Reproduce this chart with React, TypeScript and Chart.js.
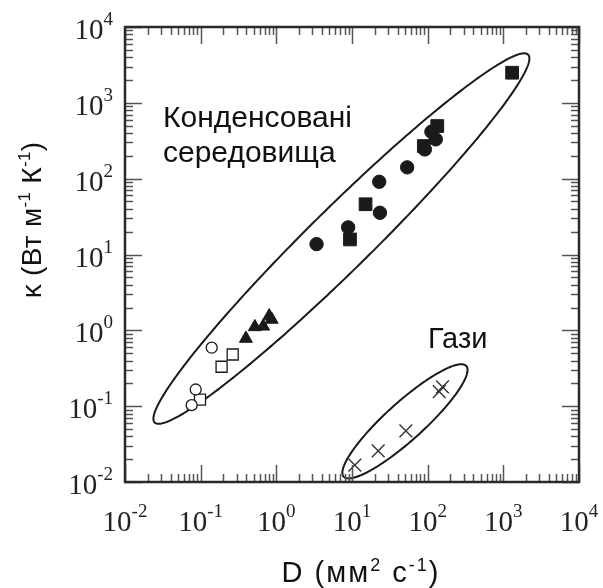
import React, { useEffect, useRef } from "react";
import { Chart, registerables } from "chart.js";
Chart.register(...registerables);

// ---- data (D in mm^2/s, kappa in W m^-1 K^-1) ----
const openCirclesD = [0.14, 0.086, 0.076];
const openCirclesK = [0.59, 0.166, 0.103];
const openSquaresD = [0.265, 0.189, 0.098];
const openSquaresK = [0.48, 0.331, 0.122];
const trianglesD = [0.396, 0.52, 0.67, 0.805, 0.867];
const trianglesK = [0.78, 1.11, 1.13, 1.54, 1.39];
const filledCirclesD = [3.4, 8.9, 23.4, 22.9, 53.6, 91.8, 128, 112];
const filledCirclesK = [13.7, 22.8, 35.5, 91, 141, 243, 330, 416];
const filledSquaresD = [9.4, 15.1, 89, 134, 1306];
const filledSquaresK = [15.8, 46, 269, 494, 2495];
const gasD = [10.9, 22.2, 51.5, 142, 157];
const gasK = [0.0167, 0.0257, 0.0472, 0.155, 0.18];

const decadeExponents = [-2, -1, 0, 1, 2, 3, 4];
const minorMultipliers = [2, 3, 4, 5, 6, 7, 8, 9];

// ellipses in log10 space: [centre log D, centre log kappa, semi-major, semi-minor, angle deg]
const condensedEllipse = [0.86, 1.21, 3.46, 0.41, 44.5];
const gasEllipse = [1.7, -1.2, 1.09, 0.25, 42];

const condensedLabel = ["Конденсовані", "середовища"];
const gasLabel = "Гази";

const SANS = "'Liberation Sans', Arial, sans-serif";
const SERIF = "'Liberation Serif', 'Times New Roman', serif";

const pts = (xs: number[], ys: number[]) => xs.map((x, i) => ({ x, y: ys[i] }));

type Seg = [string, boolean];

function drawSegs(ctx: CanvasRenderingContext2D, segs: Seg[], x: number, y: number, size: number, supSize: number, supRise: number, align: "left" | "center", spacing = 0) {
  (ctx as any).letterSpacing = `${spacing}px`;
  const widths = segs.map(([t, sup]) => {
    ctx.font = `${sup ? supSize : size}px ${SANS}`;
    return ctx.measureText(t).width;
  });
  const total = widths.reduce((a, b) => a + b, 0);
  let cx = align === "center" ? x - total / 2 : x;
  ctx.textAlign = "left";
  ctx.textBaseline = "alphabetic";
  segs.forEach(([t, sup], i) => {
    ctx.font = `${sup ? supSize : size}px ${SANS}`;
    ctx.fillText(t, cx, sup ? y - supRise : y);
    cx += widths[i];
  });
  (ctx as any).letterSpacing = "0px";
}

const framePlugin = {
  id: "framePlugin",
  beforeDatasetsDraw(chart: any) {
    const ctx: CanvasRenderingContext2D = chart.ctx;
    const xs = chart.scales.x;
    const ys = chart.scales.y;
    const drawEllipse = (e: number[]) => {
      const [cx, cy, a, b, ang] = e;
      const th = (ang * Math.PI) / 180;
      ctx.save();
      ctx.beginPath();
      for (let i = 0; i <= 360; i++) {
        const t = (i * Math.PI) / 180;
        const u = a * Math.cos(t);
        const v = b * Math.sin(t);
        const lx = cx + u * Math.cos(th) - v * Math.sin(th);
        const ly = cy + u * Math.sin(th) + v * Math.cos(th);
        const px = xs.getPixelForValue(Math.pow(10, lx));
        const py = ys.getPixelForValue(Math.pow(10, ly));
        if (i === 0) ctx.moveTo(px, py);
        else ctx.lineTo(px, py);
      }
      ctx.closePath();
      ctx.strokeStyle = "#1a1a1a";
      ctx.lineWidth = 2;
      ctx.stroke();
      ctx.restore();
    };
    drawEllipse(condensedEllipse);
    drawEllipse(gasEllipse);
  },
  afterDraw(chart: any) {
    const ctx: CanvasRenderingContext2D = chart.ctx;
    const { left, right, top, bottom } = chart.chartArea;
    const xs = chart.scales.x;
    const ys = chart.scales.y;
    ctx.save();
    // ticks
    ctx.strokeStyle = "#555";
    ctx.lineWidth = 1.5;
    const major = 17;
    const minor = 8;
    decadeExponents.forEach((e, idx) => {
      const vals: [number, number][] = [[Math.pow(10, e), major]];
      if (idx < decadeExponents.length - 1) minorMultipliers.forEach((m) => vals.push([m * Math.pow(10, e), minor]));
      vals.forEach(([v, len]) => {
        const px = Math.round(xs.getPixelForValue(v)) + 0.5;
        const py = Math.round(ys.getPixelForValue(v)) + 0.5;
        ctx.beginPath();
        ctx.moveTo(px, bottom); ctx.lineTo(px, bottom - len);
        ctx.moveTo(px, top); ctx.lineTo(px, top + len);
        ctx.moveTo(left, py); ctx.lineTo(left + len, py);
        ctx.moveTo(right, py); ctx.lineTo(right - len, py);
        ctx.stroke();
      });
    });
    // frame
    ctx.strokeStyle = "#2a2a2a";
    ctx.lineWidth = 2.5;
    ctx.strokeRect(left, top, right - left, bottom - top);

    // tick labels
    ctx.fillStyle = "#222";
    ctx.textBaseline = "alphabetic";
    decadeExponents.forEach((e) => {
      const v = Math.pow(10, e);
      const exp = String(e);
      ctx.font = `29px ${SERIF}`;
      const w10 = ctx.measureText("10").width;
      ctx.font = `19px ${SERIF}`;
      const we = ctx.measureText(exp).width;
      // x labels
      const px = xs.getPixelForValue(v);
      const x0 = px - (w10 + we) / 2;
      ctx.textAlign = "left";
      ctx.font = `29px ${SERIF}`;
      ctx.fillText("10", x0, 531);
      ctx.font = `19px ${SERIF}`;
      ctx.fillText(exp, x0 + w10, 517);
      // y labels
      const py = ys.getPixelForValue(v);
      const xr = left - 12;
      ctx.font = `19px ${SERIF}`;
      ctx.fillText(exp, xr - we, py - 2);
      ctx.font = `29px ${SERIF}`;
      ctx.fillText("10", xr - we - w10, py + 12);
    });

    // annotations
    ctx.fillStyle = "#111";
    ctx.textAlign = "left";
    ctx.font = `30px ${SANS}`;
    ctx.fillText(condensedLabel[0], 163, 127);
    ctx.fillText(condensedLabel[1], 163, 162);
    ctx.font = `29px ${SANS}`;
    ctx.fillText(gasLabel, 428, 348);

    // axis titles
    drawSegs(ctx, [["D (мм", false], ["2", true], [" с", false], ["-1", true], [")", false]], 361, 582, 29, 18, 11, "center", 2);
    ctx.translate(41, 220);
    ctx.rotate(-Math.PI / 2);
    drawSegs(ctx, [["κ (Вт м", false], ["-1", true], [" К", false], ["-1", true], [")", false]], 0, 0, 28, 17, 11, "center", 0.3);
    ctx.restore();
  },
};

export default function App() {
  const ref = useRef<HTMLCanvasElement | null>(null);
  useEffect(() => {
    if (!ref.current) return;
    const black = "#1a1a1a";
    const chart = new Chart(ref.current, {
      type: "scatter",
      data: {
        datasets: [
          { data: pts(openCirclesD, openCirclesK), pointStyle: "circle", pointRadius: 5.5, backgroundColor: "#fff", borderColor: black, borderWidth: 1.3 },
          { data: pts(openSquaresD, openSquaresK), pointStyle: "rect", pointRadius: 7.8, backgroundColor: "#fff", borderColor: black, borderWidth: 1.3 },
          { data: pts(trianglesD, trianglesK), pointStyle: "triangle", pointRadius: 7.5, backgroundColor: black, borderColor: black, borderWidth: 1 },
          { data: pts(filledCirclesD, filledCirclesK), pointStyle: "circle", pointRadius: 6.7, backgroundColor: black, borderColor: black, borderWidth: 1 },
          { data: pts(filledSquaresD, filledSquaresK), pointStyle: "rect", pointRadius: 9, backgroundColor: black, borderColor: black, borderWidth: 1 },
          { data: pts(gasD, gasK), pointStyle: "crossRot", pointRadius: 9, backgroundColor: black, borderColor: "#333", borderWidth: 1.4 },
        ] as any,
      },
      options: {
        animation: false,
        responsive: false,
        devicePixelRatio: 1,
        layout: { padding: { left: 125, top: 27, right: 24, bottom: 106 } },
        plugins: { legend: { display: false }, tooltip: { enabled: false } },
        scales: {
          x: { type: "logarithmic", min: 0.01, max: 10000, display: false },
          y: { type: "logarithmic", min: 0.01, max: 10000, display: false },
        },
      } as any,
      plugins: [framePlugin],
    });
    return () => chart.destroy();
  }, []);
  return (
    <div style={{ position: "absolute", left: 0, top: 0, width: 603, height: 588, background: "#fff" }}>
      <canvas ref={ref} width={603} height={588} style={{ width: 603, height: 588, display: "block" }} />
    </div>
  );
}
